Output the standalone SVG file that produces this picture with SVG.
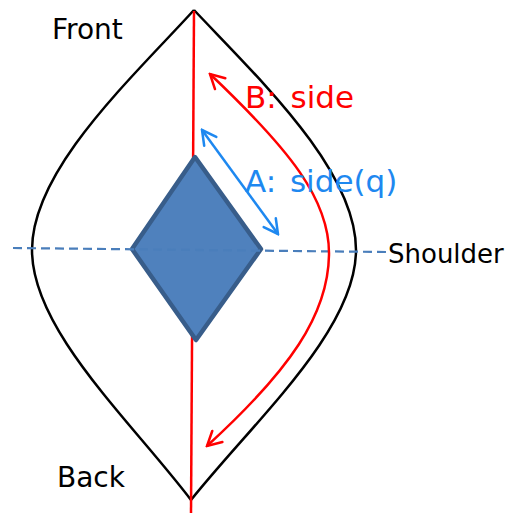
<svg xmlns="http://www.w3.org/2000/svg" width="505" height="514" viewBox="0 0 505 514">
<style>
.lbl{font-family:"DejaVu Sans","Noto Sans",sans-serif;}
.outline{fill:none;stroke:#000;stroke-width:2.5;}
.red{fill:none;stroke:#ff0000;stroke-width:2.5;}
.blue{fill:none;stroke:#1e88f0;stroke-width:2.5;}
</style>
<defs>
<marker id="ahRed" markerUnits="userSpaceOnUse" viewBox="0 0 18 18" markerWidth="18" markerHeight="18" refX="16" refY="9" orient="auto-start-reverse">
<path d="M2,1.5 L16,9 L2,16.5" fill="none" stroke="#ff0000" stroke-width="2.5" stroke-linecap="round"/>
</marker>
<marker id="ahBlue" markerUnits="userSpaceOnUse" viewBox="0 0 18 18" markerWidth="18" markerHeight="18" refX="16" refY="9" orient="auto-start-reverse">
<path d="M2,1.5 L16,9 L2,16.5" fill="none" stroke="#1e88f0" stroke-width="2.5" stroke-linecap="round"/>
</marker>
</defs>
<rect width="505" height="514" fill="#fff"/>
<g id="outline">
<path class="outline" d="M194,10 C130,80 32,170 32,250 C32,330 130,420 191,500"/>
<path class="outline" d="M194,10 C260,80 356,170 356,250 C356,330 255,420 191,500"/>
</g>
<g id="axis">
<line class="red" x1="194" y1="11" x2="191" y2="513"/>
</g>
<g id="diamond">
<polygon points="195,157 261,249 196,340 132,249" fill="#4f81bd" stroke="#385d8a" stroke-width="4.5" stroke-linejoin="round"/>
</g>
<g id="shoulder-line">
<line x1="13" y1="248" x2="388" y2="252" stroke="#4a7ebb" stroke-width="2.2" stroke-dasharray="9,5"/>
</g>
<g id="connectors">
<path class="red" d="M210,74 C290,150 330,200 329,255 C328,315 290,370 207,446" marker-start="url(#ahRed)" marker-end="url(#ahRed)"/>
<line class="blue" x1="202" y1="130" x2="278" y2="234" marker-start="url(#ahBlue)" marker-end="url(#ahBlue)"/>
</g>
<g id="labels">
<text class="lbl" x="52" y="39" font-size="28" fill="#000">Front</text>
<text class="lbl" x="57" y="487" font-size="28" fill="#000">Back</text>
<text class="lbl" x="388" y="263" font-size="26" fill="#000">Shoulder</text>
<text class="lbl" x="245" y="108" font-size="31" fill="#ff0000" word-spacing="4">B: side</text>
<text class="lbl" x="245" y="192" font-size="31" fill="#1e88f0" word-spacing="4">A: side(q)</text>
</g>
</svg>
